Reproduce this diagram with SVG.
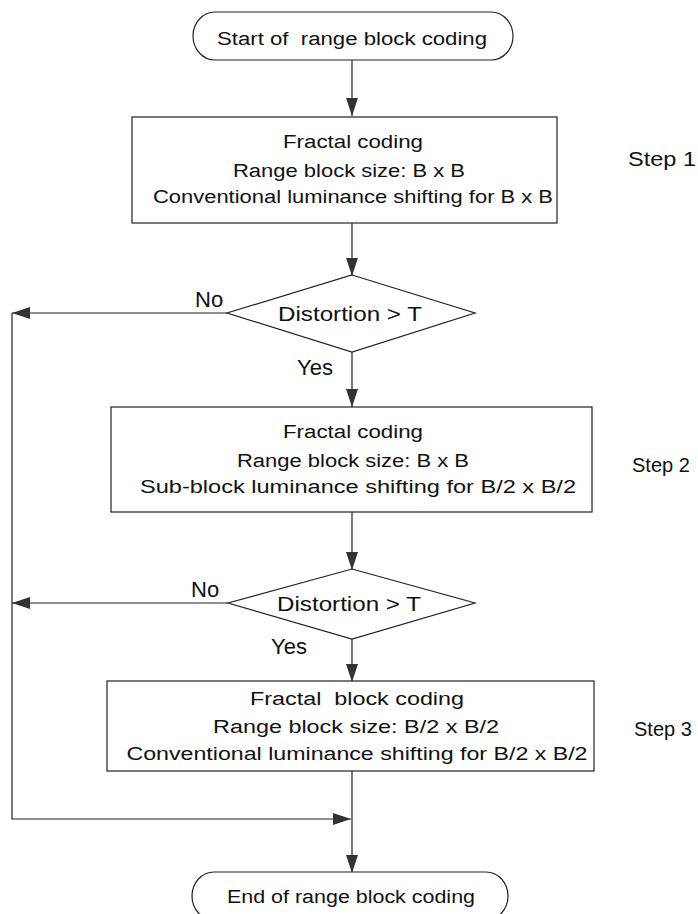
<svg xmlns="http://www.w3.org/2000/svg" width="698" height="914" viewBox="0 0 698 914">
<defs>
<marker id="ah" markerUnits="userSpaceOnUse" markerWidth="18" markerHeight="12" refX="18" refY="6" orient="auto">
<path d="M0,0 L18,6 L0,12 z" fill="#333"/>
</marker>
<style>
.shape{fill:#fff;stroke:#222;stroke-width:1.2}
.t{font-family:"Liberation Sans",Arial,sans-serif;font-size:18px;fill:#111;text-anchor:middle;white-space:pre}
.d{font-family:"Liberation Sans",Arial,sans-serif;font-size:21px;fill:#111;text-anchor:middle}
.lbl{font-family:"Liberation Sans",Arial,sans-serif;font-size:22px;fill:#111}
.step{font-family:"Liberation Sans",Arial,sans-serif;font-size:20px;fill:#111}
.c{fill:none;stroke:#222;stroke-width:1.2}
</style>
</defs>
<rect width="698" height="914" fill="#fff"/>
<g id="connectors">
<line class="c" x1="352" y1="60" x2="352" y2="116" marker-end="url(#ah)"/>
<line class="c" x1="352" y1="223" x2="352" y2="276" marker-end="url(#ah)"/>
<line class="c" x1="227" y1="313" x2="12" y2="313" marker-end="url(#ah)"/>
<line class="c" x1="352" y1="352" x2="352" y2="407" marker-end="url(#ah)"/>
<line class="c" x1="352" y1="512" x2="352" y2="570" marker-end="url(#ah)"/>
<line class="c" x1="228" y1="603" x2="12" y2="603" marker-end="url(#ah)"/>
<line class="c" x1="352" y1="639" x2="352" y2="682" marker-end="url(#ah)"/>
<line class="c" x1="352" y1="771" x2="352" y2="873" marker-end="url(#ah)"/>
<polyline class="c" points="12,313 12,819 351,819" marker-end="url(#ah)"/>
<text class="lbl" x="195" y="307">No</text>
<text class="lbl" x="297" y="375">Yes</text>
<text class="lbl" x="191" y="597">No</text>
<text class="lbl" x="271" y="654">Yes</text>
</g>
<g id="start">
<rect class="shape" x="193" y="12" width="320" height="48" rx="22" ry="24"/>
<text class="t" x="352" y="45" textLength="270" lengthAdjust="spacingAndGlyphs" xml:space="preserve">Start of  range block coding</text>
</g>
<g id="step1">
<rect class="shape" x="132" y="117" width="425" height="106"/>
<text class="t" x="353" y="148" textLength="140" lengthAdjust="spacingAndGlyphs">Fractal coding</text>
<text class="t" x="349" y="177" textLength="232" lengthAdjust="spacingAndGlyphs">Range block size: B x B</text>
<text class="t" x="353" y="203" textLength="400" lengthAdjust="spacingAndGlyphs">Conventional luminance shifting for B x B</text>
<text class="step" x="628" y="166" textLength="68" lengthAdjust="spacingAndGlyphs">Step 1</text>
</g>
<g id="decision1">
<polygon class="shape" points="352,275 475,313 352,352 227,313"/>
<text class="d" x="350" y="321" textLength="144" lengthAdjust="spacingAndGlyphs">Distortion &gt; T</text>
</g>
<g id="step2">
<rect class="shape" x="111" y="407" width="481" height="105"/>
<text class="t" x="353" y="438" textLength="140" lengthAdjust="spacingAndGlyphs">Fractal coding</text>
<text class="t" x="353" y="467" textLength="232" lengthAdjust="spacingAndGlyphs">Range block size: B x B</text>
<text class="t" x="358" y="493" textLength="436" lengthAdjust="spacingAndGlyphs">Sub-block luminance shifting for B/2 x B/2</text>
<text class="step" x="632" y="472">Step 2</text>
</g>
<g id="decision2">
<polygon class="shape" points="352,569 475,603 352,639 228,603"/>
<text class="d" x="349" y="611" textLength="144" lengthAdjust="spacingAndGlyphs">Distortion &gt; T</text>
</g>
<g id="step3">
<rect class="shape" x="107" y="681" width="487" height="90"/>
<text class="t" x="357" y="705" textLength="214" lengthAdjust="spacingAndGlyphs" xml:space="preserve">Fractal  block coding</text>
<text class="t" x="356" y="733" textLength="286" lengthAdjust="spacingAndGlyphs">Range block size: B/2 x B/2</text>
<text class="t" x="357" y="760" textLength="461" lengthAdjust="spacingAndGlyphs">Conventional luminance shifting for B/2 x B/2</text>
<text class="step" x="634" y="736">Step 3</text>
</g>
<g id="end">
<rect class="shape" x="192" y="872" width="316" height="48" rx="22" ry="24"/>
<text class="t" x="351" y="903" textLength="248" lengthAdjust="spacingAndGlyphs">End of range block coding</text>
</g>
</svg>
